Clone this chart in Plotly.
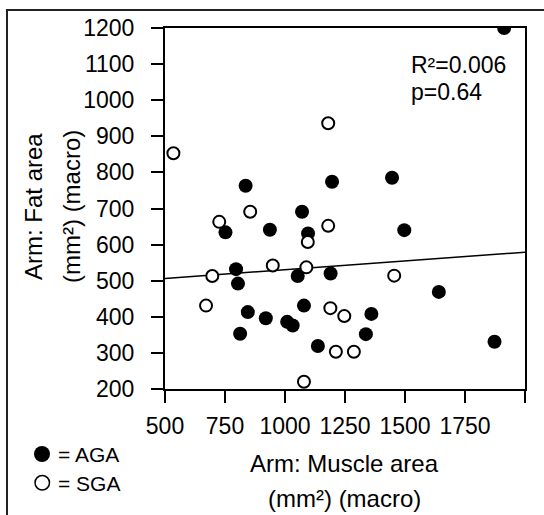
import plotly.graph_objects as go

# ---- data ----
aga_muscle = [1913, 836, 1196, 1446, 1071, 752, 937, 1096, 1497, 796, 804, 1053,
              1190, 1641, 1079, 845, 920, 1009, 1032, 1360, 813, 1337, 1137, 1873]
aga_fat = [1200, 763, 774, 785, 691, 634, 641, 631, 640, 532, 492, 513,
           520, 469, 431, 413, 396, 386, 376, 408, 353, 352, 319, 331]

sga_muscle = [535, 1180, 726, 855, 1180, 1095, 697, 949, 1089, 1455, 671, 1189,
              1247, 1212, 1287, 1079]
sga_fat = [853, 936, 663, 691, 652, 607, 513, 542, 537, 514, 431, 424,
           402, 303, 303, 220]

fit_slope = 0.0487
fit_intercept = 481.7
fit_x = [500, 2000]

x_ticks = [500, 750, 1000, 1250, 1500, 1750, 2000]
x_ticktext = ["500", "750", "1000", "1250", "1500", "1750", ""]
y_ticks = [200, 300, 400, 500, 600, 700, 800, 900, 1000, 1100, 1200]

stats_lines = ["R²=0.006", "p=0.64"]
legend_labels = ["= AGA", "= SGA"]
x_title_lines = ["Arm: Muscle area", "(mm²) (macro)"]
y_title_lines = ["Arm: Fat area", "(mm²) (macro)"]

# ---- layout geometry (pixels) ----
W, H = 544, 515
L, R, T, B = 165, 525, 28, 389


def px(x):
    return (x - L) / (R - L)


def py(y):
    return (B - y) / (B - T)


FONT = "Liberation Sans, Arial, sans-serif"

fig = go.Figure()

fig.add_trace(go.Scatter(
    x=fit_x, y=[fit_intercept + fit_slope * v for v in fit_x],
    mode="lines", line=dict(color="black", width=1.5),
    hoverinfo="skip", showlegend=False))

fig.add_trace(go.Scatter(
    x=aga_muscle, y=aga_fat, mode="markers", name="AGA",
    marker=dict(size=14, color="black", line=dict(width=0)),
    showlegend=False))

fig.add_trace(go.Scatter(
    x=sga_muscle, y=sga_fat, mode="markers", name="SGA",
    marker=dict(size=12, color="white", line=dict(width=2, color="black")),
    showlegend=False))

axis_common = dict(
    showgrid=False, zeroline=False, showline=True, linecolor="black",
    linewidth=2, mirror=True, ticks="outside", ticklen=12, tickwidth=2,
    tickcolor="black", tickfont=dict(family=FONT, size=23, color="black"),
)

fig.update_xaxes(range=[500, 2000], tickvals=x_ticks, ticktext=x_ticktext,
                 ticklabelstandoff=3, **axis_common)
fig.update_yaxes(range=[200, 1200], tickvals=y_ticks,
                 ticklabelstandoff=12, **axis_common)

ann = []
# stats
ann.append(dict(text=stats_lines[0], x=px(409), y=py(65), xref="paper", yref="paper",
                xanchor="left", yanchor="middle", showarrow=False,
                font=dict(family=FONT, size=23, color="black")))
ann.append(dict(text=stats_lines[1], x=px(409), y=py(92), xref="paper", yref="paper",
                xanchor="left", yanchor="middle", showarrow=False,
                font=dict(family=FONT, size=23, color="black")))
# x title
ann.append(dict(text=x_title_lines[0], x=px(344), y=py(463), xref="paper", yref="paper",
                xanchor="center", yanchor="middle", showarrow=False,
                font=dict(family=FONT, size=24, color="black")))
ann.append(dict(text=x_title_lines[1], x=px(344), y=py(498), xref="paper", yref="paper",
                xanchor="center", yanchor="middle", showarrow=False,
                font=dict(family=FONT, size=24, color="black")))
# y title
ann.append(dict(text=y_title_lines[0], x=px(33), y=py(207), xref="paper", yref="paper",
                xanchor="center", yanchor="middle", showarrow=False, textangle=-90,
                font=dict(family=FONT, size=24, color="black")))
ann.append(dict(text=y_title_lines[1], x=px(71), y=py(207), xref="paper", yref="paper",
                xanchor="center", yanchor="middle", showarrow=False, textangle=-90,
                font=dict(family=FONT, size=24, color="black")))
# legend text
ann.append(dict(text=legend_labels[0], x=px(56), y=py(454), xref="paper", yref="paper",
                xanchor="left", yanchor="middle", showarrow=False,
                font=dict(family=FONT, size=21, color="black")))
ann.append(dict(text=legend_labels[1], x=px(56), y=py(483), xref="paper", yref="paper",
                xanchor="left", yanchor="middle", showarrow=False,
                font=dict(family=FONT, size=21, color="black")))

shapes = [
    # outer frame (cut off on right/bottom)
    dict(type="line", xref="paper", yref="paper", x0=px(7), x1=px(7), y0=py(9), y1=py(530),
         line=dict(color="#222", width=2)),
    dict(type="line", xref="paper", yref="paper", x0=px(6), x1=px(560), y0=py(10), y1=py(10),
         line=dict(color="#222", width=2)),
    # legend symbols
    dict(type="circle", xref="paper", yref="paper", x0=px(34), x1=px(50), y0=py(446), y1=py(462),
         fillcolor="black", line=dict(color="black", width=0)),
    dict(type="circle", xref="paper", yref="paper", x0=px(35), x1=px(49.5), y0=py(475.5), y1=py(490),
         fillcolor="white", line=dict(color="black", width=1.5)),
]

fig.update_layout(
    width=W, height=H,
    margin=dict(l=L, r=W - R, t=T, b=H - B, pad=0),
    paper_bgcolor="white", plot_bgcolor="white",
    annotations=ann, shapes=shapes, showlegend=False,
    font=dict(family=FONT, color="black"),
)

fig.write_html("out.html",
               config={"displayModeBar": False},
               post_script="document.body.style.margin='0';document.body.style.overflow='hidden';")
